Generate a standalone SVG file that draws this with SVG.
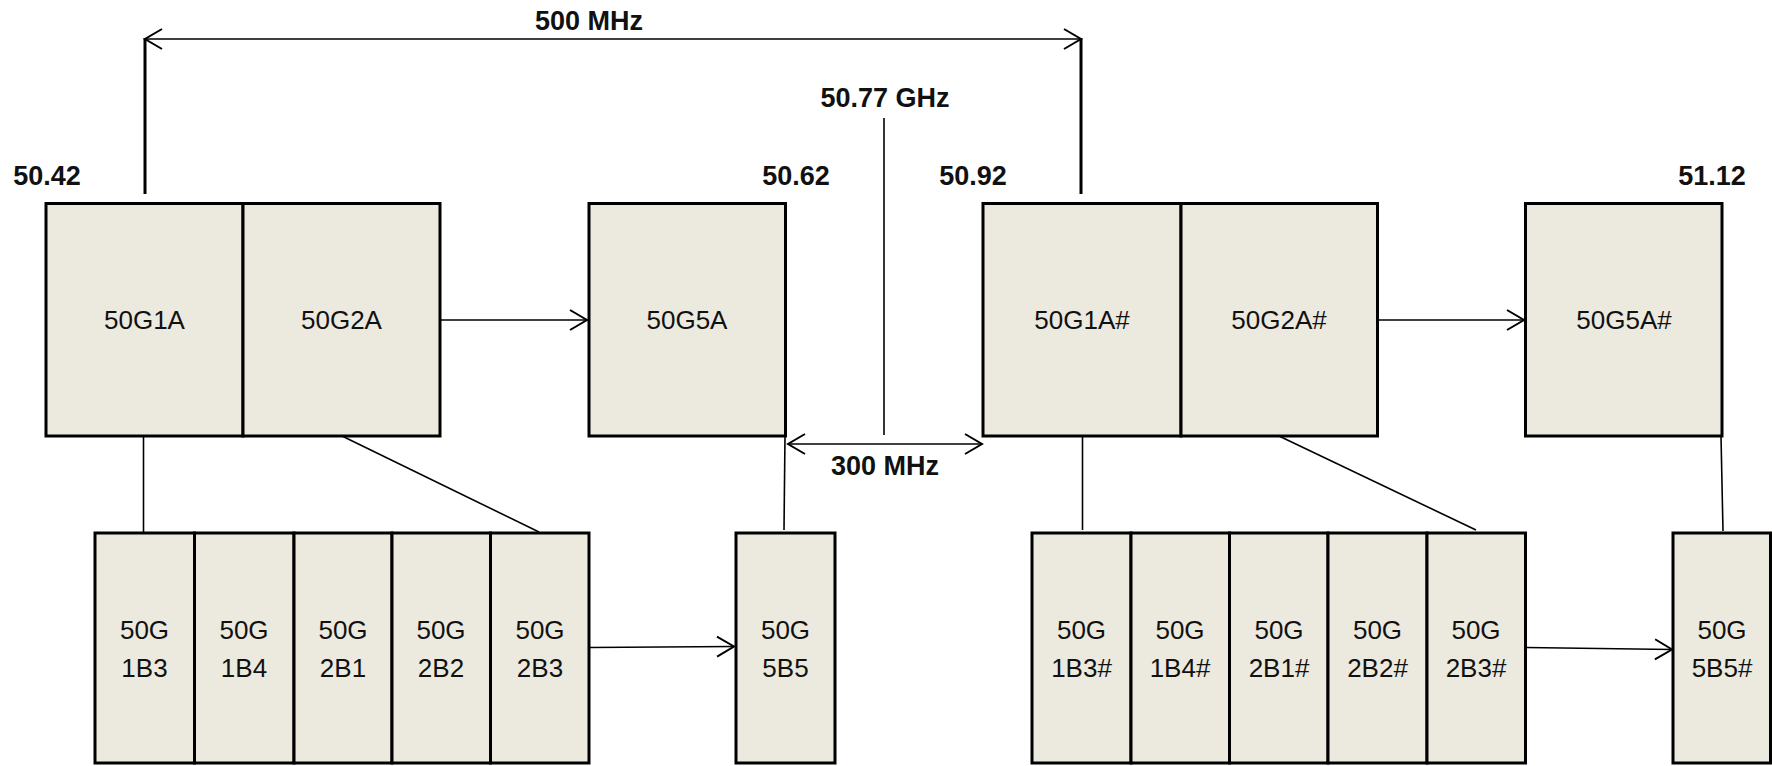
<svg xmlns="http://www.w3.org/2000/svg" width="1772" height="766" viewBox="0 0 1772 766">
<style>
.box{fill:#ECE9DF;stroke:#000;stroke-width:3}
.lbl{font-family:"Liberation Sans",Arial,sans-serif;font-size:26px;fill:#111;text-anchor:middle}
.bold{font-family:"Liberation Sans",Arial,sans-serif;font-size:27px;font-weight:bold;fill:#111;text-anchor:middle}
.ln{stroke:#000;stroke-width:1.6;fill:none}
.thick{stroke:#000;stroke-width:3;fill:none}
</style>
<defs>
<marker id="ah" markerUnits="userSpaceOnUse" markerWidth="20" markerHeight="24" viewBox="0 0 20 24" refX="18" refY="12" orient="auto-start-reverse">
<path d="M1,2 L18,12 L1,22" fill="none" stroke="#000" stroke-width="2"/>
</marker>
</defs>
<rect width="1772" height="766" fill="#fff"/>

<g id="labels">
<text class="bold" x="589" y="30">500 MHz</text>
<text class="bold" x="885" y="107">50.77 GHz</text>
<text class="bold" x="885" y="475">300 MHz</text>
<text class="bold" x="47" y="185">50.42</text>
<text class="bold" x="796" y="185">50.62</text>
<text class="bold" x="973" y="185">50.92</text>
<text class="bold" x="1712" y="185">51.12</text>
</g>

<g id="connectors">
<line class="ln" x1="145" y1="39" x2="1081" y2="39" marker-start="url(#ah)" marker-end="url(#ah)"/>
<line class="thick" x1="145" y1="38" x2="145" y2="194"/>
<line class="thick" x1="1081" y1="38" x2="1081" y2="194"/>
<line class="ln" x1="884" y1="118" x2="884" y2="435"/>
<line class="ln" x1="788" y1="444" x2="982" y2="444" marker-start="url(#ah)" marker-end="url(#ah)"/>
<line class="ln" x1="440" y1="320" x2="587" y2="320" marker-end="url(#ah)"/>
<line class="ln" x1="1377" y1="320" x2="1524" y2="320" marker-end="url(#ah)"/>
<line class="ln" x1="143.5" y1="436" x2="143.5" y2="532"/>
<line class="ln" x1="342" y1="436" x2="539" y2="532"/>
<line class="ln" x1="785" y1="436" x2="784" y2="530"/>
<line class="ln" x1="1082.5" y1="436" x2="1082.5" y2="530"/>
<line class="ln" x1="1279" y1="436" x2="1476" y2="530"/>
<line class="ln" x1="1721" y1="436" x2="1723" y2="531"/>
<line class="ln" x1="589" y1="647.5" x2="734" y2="646.5" marker-end="url(#ah)"/>
<line class="ln" x1="1526" y1="647.5" x2="1672" y2="649.5" marker-end="url(#ah)"/>
</g>

<g id="n50G1A"><rect class="box" x="46" y="203.5" width="197" height="232.5"/><text class="lbl" x="144.5" y="329">50G1A</text></g>
<g id="n50G2A"><rect class="box" x="243" y="203.5" width="197" height="232.5"/><text class="lbl" x="341.5" y="329">50G2A</text></g>
<g id="n50G5A"><rect class="box" x="589" y="203.5" width="196.5" height="232.5"/><text class="lbl" x="687" y="329">50G5A</text></g>
<g id="n50G1Ah"><rect class="box" x="983" y="203.5" width="198" height="232.5"/><text class="lbl" x="1082" y="329">50G1A#</text></g>
<g id="n50G2Ah"><rect class="box" x="1181" y="203.5" width="196.5" height="232.5"/><text class="lbl" x="1279" y="329">50G2A#</text></g>
<g id="n50G5Ah"><rect class="box" x="1525.5" y="203.5" width="196.5" height="232.5"/><text class="lbl" x="1624" y="329">50G5A#</text></g>

<g id="n1B3"><rect class="box" x="95" y="533" width="99.5" height="230"/><text class="lbl" x="144.5" y="639">50G</text><text class="lbl" x="144.5" y="677">1B3</text></g>
<g id="n1B4"><rect class="box" x="194.5" y="533" width="99.5" height="230"/><text class="lbl" x="244" y="639">50G</text><text class="lbl" x="244" y="677">1B4</text></g>
<g id="n2B1"><rect class="box" x="294" y="533" width="98" height="230"/><text class="lbl" x="343" y="639">50G</text><text class="lbl" x="343" y="677">2B1</text></g>
<g id="n2B2"><rect class="box" x="392" y="533" width="98.5" height="230"/><text class="lbl" x="441" y="639">50G</text><text class="lbl" x="441" y="677">2B2</text></g>
<g id="n2B3"><rect class="box" x="490.5" y="533" width="98.5" height="230"/><text class="lbl" x="540" y="639">50G</text><text class="lbl" x="540" y="677">2B3</text></g>
<g id="n5B5"><rect class="box" x="736" y="533" width="99" height="230"/><text class="lbl" x="785.5" y="639">50G</text><text class="lbl" x="785.5" y="677">5B5</text></g>

<g id="n1B3h"><rect class="box" x="1032" y="533" width="99" height="230"/><text class="lbl" x="1081.5" y="639">50G</text><text class="lbl" x="1081.5" y="677">1B3#</text></g>
<g id="n1B4h"><rect class="box" x="1131" y="533" width="98.5" height="230"/><text class="lbl" x="1180" y="639">50G</text><text class="lbl" x="1180" y="677">1B4#</text></g>
<g id="n2B1h"><rect class="box" x="1229.5" y="533" width="98.5" height="230"/><text class="lbl" x="1279" y="639">50G</text><text class="lbl" x="1279" y="677">2B1#</text></g>
<g id="n2B2h"><rect class="box" x="1328" y="533" width="99" height="230"/><text class="lbl" x="1377.5" y="639">50G</text><text class="lbl" x="1377.5" y="677">2B2#</text></g>
<g id="n2B3h"><rect class="box" x="1427" y="533" width="98.5" height="230"/><text class="lbl" x="1476" y="639">50G</text><text class="lbl" x="1476" y="677">2B3#</text></g>
<g id="n5B5h"><rect class="box" x="1673" y="533" width="97.5" height="230"/><text class="lbl" x="1722" y="639">50G</text><text class="lbl" x="1722" y="677">5B5#</text></g>
</svg>
